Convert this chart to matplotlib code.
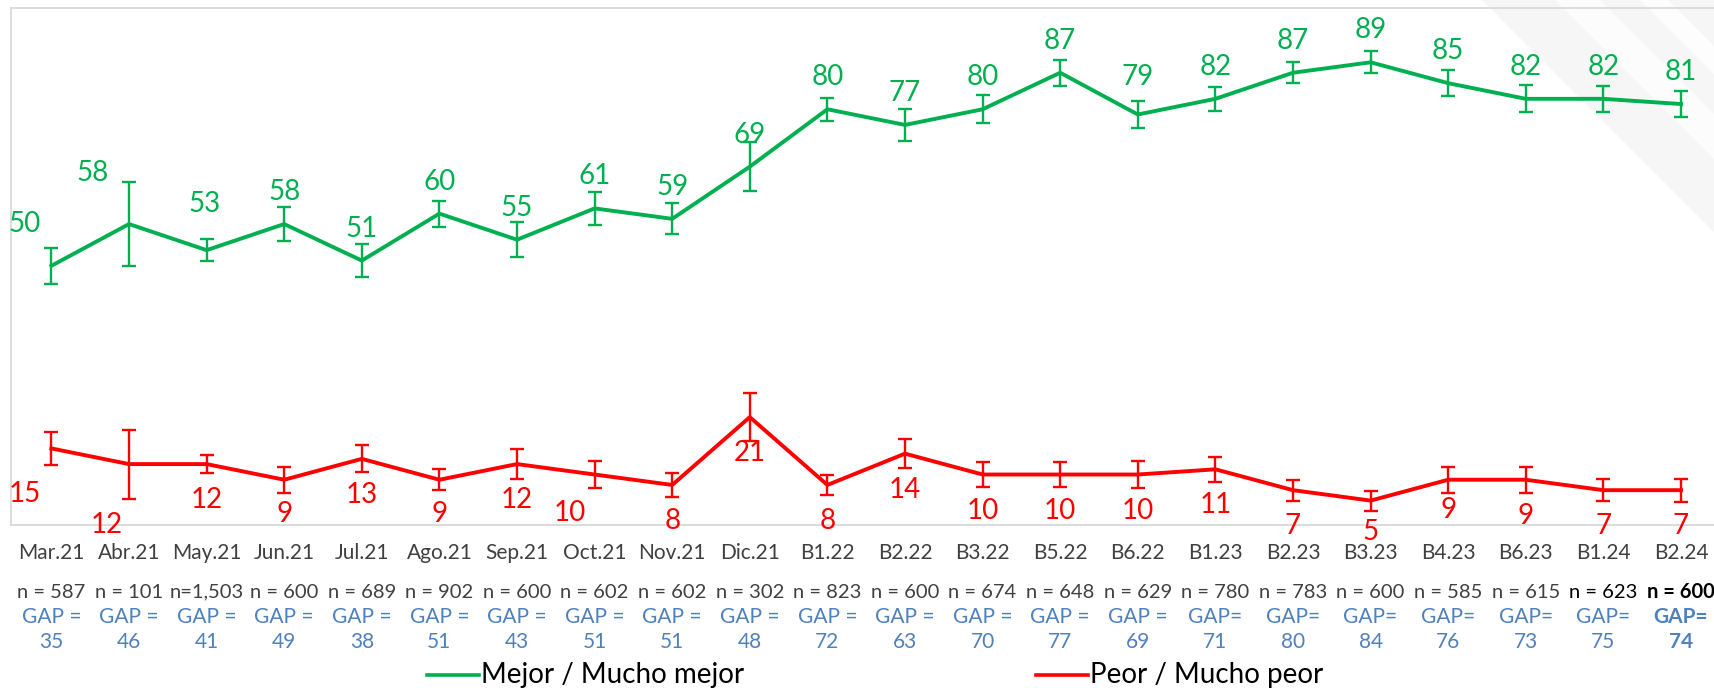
import matplotlib
matplotlib.use("Agg")
import matplotlib.pyplot as plt
from matplotlib.transforms import blended_transform_factory
from matplotlib.patches import Polygon

# ---- data ----
periods = ["Mar.21", "Abr.21", "May.21", "Jun.21", "Jul.21", "Ago.21", "Sep.21",
           "Oct.21", "Nov.21", "Dic.21", "B1.22", "B2.22", "B3.22", "B5.22",
           "B6.22", "B1.23", "B2.23", "B3.23", "B4.23", "B6.23", "B1.24", "B2.24"]
mejor = [50, 58, 53, 58, 51, 60, 55, 61, 59, 69, 80, 77, 80, 87, 79, 82, 87, 89, 85, 82, 82, 81]
peor = [15, 12, 12, 9, 13, 9, 12, 10, 8, 21, 8, 14, 10, 10, 10, 11, 7, 5, 9, 9, 7, 7]
mejor_err = [3.4, 8.0, 2.1, 3.2, 3.2, 2.5, 3.3, 3.1, 3.0, 4.7, 2.2, 3.0, 2.65, 2.5,
             2.6, 2.35, 2.0, 2.1, 2.5, 2.6, 2.5, 2.5]
peor_err = [3.1, 6.6, 1.8, 2.5, 2.6, 2.0, 2.8, 2.5, 2.3, 4.6, 2.0, 2.8, 2.4, 2.4,
            2.5, 2.45, 2.0, 1.9, 2.5, 2.45, 2.1, 2.2]
n_labels = ["n = 587", "n = 101", "n=1,503", "n = 600", "n = 689", "n = 902", "n = 600",
            "n = 602", "n = 602", "n = 302", "n = 823", "n = 600", "n = 674", "n = 648",
            "n = 629", "n = 780", "n = 783", "n = 600", "n = 585", "n = 615", "n = 623",
            "n = 600"]
gap = [35, 46, 41, 49, 38, 51, 43, 51, 51, 48, 72, 63, 70, 77, 69, 71, 80, 84, 76, 73, 75, 74]
gap_prefix = ["GAP ="] * 15 + ["GAP="] * 7
series_names = ["Mejor / Mucho mejor", "Peor / Mucho peor"]

GREEN = "#00B050"
RED = "#FF0000"
GREY_TXT = "#404040"
BLUE_TXT = "#4F81BD"
FONT = "Lato"

W, H = 1715, 688
fig = plt.figure(figsize=(W / 100, H / 100), dpi=100)
fig.patch.set_facecolor("white")


def fy(py):
    return 1 - py / H


# background layer: faint diagonal shading in the top-right corner + chart frame
bg = fig.add_axes([0, 0, 1, 1], zorder=-5)
bg.set_xlim(0, W)
bg.set_ylim(H, 0)
bg.axis("off")
deco = [
    ([(1482, 0), (W, 0), (W, 233)], "#f6f6f6"),
    ([(1555, 0), (1600, 0), (W, 115), (W, 160)], "#fcfcfc"),
    ([(1640, 0), (1668, 0), (W, 47), (W, 75)], "#fdfdfd"),
]
for pts, col in deco:
    bg.add_patch(Polygon(pts, closed=True, facecolor=col, edgecolor="none"))
frame_kw = dict(color="#D9D9D9", lw=1.3)
bg.plot([11, 11], [8, 525], **frame_kw)
bg.plot([11, W], [8, 8], **frame_kw)
bg.plot([11, W], [525, 525], **frame_kw)

# plot area: value 0 at y=526.7px, value 100 at y=4.9px
x0, dx = 51.4, 77.6
ax = fig.add_axes([0, fy(526.7), 1, fy(4.9) - fy(526.7)], zorder=1)
ax.set_xlim(-x0 / dx, (W - x0) / dx)
ax.set_ylim(0, 100)
ax.axis("off")
ax.patch.set_alpha(0)

xs = list(range(len(periods)))
for vals, errs, col in [(mejor, mejor_err, GREEN), (peor, peor_err, RED)]:
    ax.errorbar(xs, vals, yerr=errs, color=col, lw=2.8, elinewidth=1.7,
                capsize=5, capthick=1.7, zorder=3)

# value labels (offsets in pixels from each point)
green_off = [(0, 32)] * len(periods)
green_off[0] = (-27, 42)
green_off[1] = (-36, 51)
green_off[2] = (-2, 46)
green_off[14] = (0, 37)
red_off = [(0, -36)] * len(periods)
red_off[0] = (-27, -46)
red_off[1] = (-22, -61)
red_off[3] = (0, -34)
red_off[5] = (0, -34)
red_off[7] = (-25, -38)
red_off[17] = (0, -31)
red_off[18] = (0, -30)

for i in xs:
    ax.annotate(str(mejor[i]), (i, mejor[i]), xytext=green_off[i],
                textcoords="offset pixels", ha="center", va="center",
                color=GREEN, fontsize=20, family=FONT, zorder=4)
    ax.annotate(str(peor[i]), (i, peor[i]), xytext=red_off[i],
                textcoords="offset pixels", ha="center", va="center",
                color=RED, fontsize=20, family=FONT, zorder=4)

# category rows below the plot
tr = blended_transform_factory(ax.transData, fig.transFigure)
last = len(periods) - 1
for i in xs:
    ax.text(i, fy(553), periods[i], transform=tr, ha="center", va="center",
            fontsize=15, color=GREY_TXT, family=FONT)
    if i == last:
        ncol, nw = "black", "bold"
    elif i == last - 1:
        ncol, nw = "black", "normal"
    else:
        ncol, nw = GREY_TXT, "normal"
    ax.text(i, fy(592), n_labels[i], transform=tr, ha="center", va="center",
            fontsize=14.5, color=ncol, fontweight=nw, family=FONT)
    gw = "bold" if i == last else "normal"
    ax.text(i, fy(617), gap_prefix[i], transform=tr, ha="center", va="center",
            fontsize=15, color=BLUE_TXT, fontweight=gw, family=FONT)
    ax.text(i, fy(642), str(gap[i]), transform=tr, ha="center", va="center",
            fontsize=15, color=BLUE_TXT, fontweight=gw, family=FONT)

# legend drawn along the bottom edge
for (lx0, lx1), col, name in [((427, 479), GREEN, series_names[0]),
                               ((1036, 1088), RED, series_names[1])]:
    bg.plot([lx0, lx1], [675, 675], color=col, lw=2.6)
    bg.text(lx1 + 2, 675, name, ha="left", va="center", fontsize=20,
            color="black", family=FONT)

fig.savefig("out.png", dpi=100, facecolor="white")
